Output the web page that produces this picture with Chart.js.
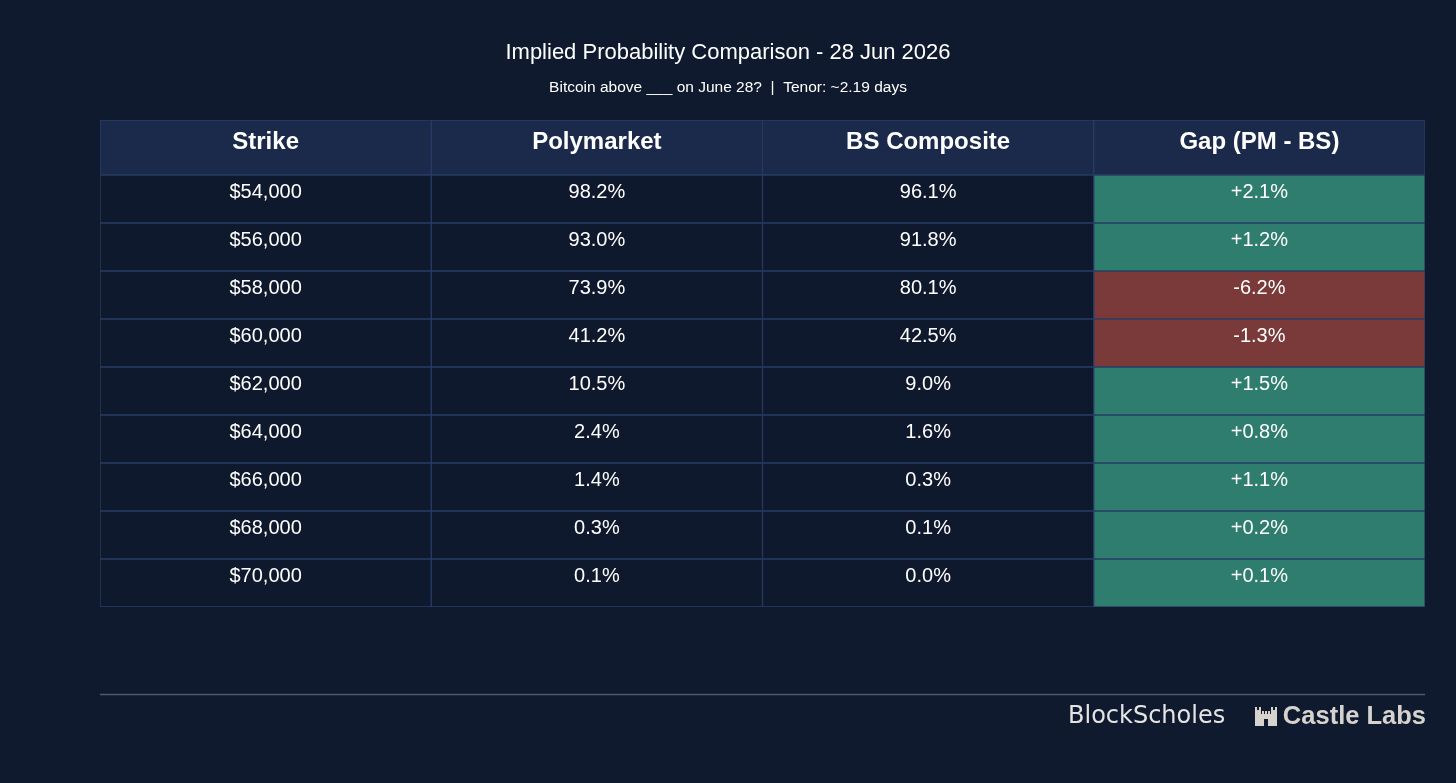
<!DOCTYPE html>
<html>
<head>
<meta charset="utf-8">
<script src="https://cdn.jsdelivr.net/npm/chart.js@4.4.1/dist/chart.umd.min.js"></script>
<style>
  html, body { margin: 0; padding: 0; background: #101a2e; }
  #wrap { width: 1456px; height: 783px; position: relative; }
</style>
</head>
<body>
<div id="wrap"><canvas id="tbl"></canvas></div>
<script>
// ── Datos de la tabla ─────────────────────────────────────────
var columns     = ['Strike', 'Polymarket', 'BS Composite', 'Gap (PM - BS)'];
var strikes     = ['$54,000', '$56,000', '$58,000', '$60,000', '$62,000', '$64,000', '$66,000', '$68,000', '$70,000'];
var polymarket  = [98.2, 93.0, 73.9, 41.2, 10.5, 2.4, 1.4, 0.3, 0.1];
var bsComposite = [96.1, 91.8, 80.1, 42.5, 9.0, 1.6, 0.3, 0.1, 0.0];
var gap         = [2.1, 1.2, -6.2, -1.3, 1.5, 0.8, 1.1, 0.2, 0.1];

// ── Estilo ───────────────────────────────────────────────────
var HEADER_H = 55, ROW_H = 48;
var C_BG = '#101a2e', C_CELL = '#0f192d', C_HEAD = '#1b2a4b';
var C_POS = '#2e7d6e', C_NEG = '#7b3a3a', C_LINE = '#283d66';
var FONT = '"Liberation Sans", Arial, sans-serif';

function pct(v) { return v.toFixed(1) + '%'; }
function signed(v) { return (v >= 0 ? '+' : '') + v.toFixed(1) + '%'; }

// cada fila = un dataset de barras flotantes (una por columna)
var datasets = [{
    label: 'header',
    data: columns.map(function() { return [0, HEADER_H]; }),
    backgroundColor: columns.map(function() { return C_HEAD; }),
    cellText: columns.slice(),
    isHeader: true
}];
strikes.forEach(function(s, i) {
    var top = HEADER_H + ROW_H * i;
    datasets.push({
        label: s,
        data: columns.map(function() { return [top, top + ROW_H]; }),
        backgroundColor: [C_CELL, C_CELL, C_CELL, gap[i] >= 0 ? C_POS : C_NEG],
        cellText: [s, pct(polymarket[i]), pct(bsComposite[i]), signed(gap[i])],
        isHeader: false
    });
});
datasets.forEach(function(d) {
    d.borderColor = C_LINE;
    d.borderWidth = 1;
    d.borderSkipped = false;
    d.barPercentage = 1;
    d.categoryPercentage = 1;
    d.grouped = false;
});

var cellTextPlugin = {
    id: 'cellText',
    afterDatasetsDraw: function(chart) {
        var ctx = chart.ctx;
        ctx.save();
        ctx.fillStyle = '#ffffff';
        ctx.textAlign = 'center';
        ctx.textBaseline = 'middle';
        chart.data.datasets.forEach(function(ds, di) {
            var meta = chart.getDatasetMeta(di);
            ctx.font = ds.isHeader ? 'bold 24px ' + FONT : '20px ' + FONT;
            meta.data.forEach(function(el, j) {
                var top = Math.min(el.y, el.base);
                ctx.fillText(ds.cellText[j], el.x, top + (ds.isHeader ? 22.5 : 17.5));
            });
        });
        ctx.restore();
    }
};

var decorPlugin = {
    id: 'decor',
    beforeDraw: function(chart) {
        var ctx = chart.ctx;
        ctx.save();
        ctx.fillStyle = C_BG;
        ctx.fillRect(0, 0, chart.width, chart.height);
        ctx.restore();
    },
    afterDraw: function(chart) {
        var ctx = chart.ctx, area = chart.chartArea;
        ctx.save();
        ctx.fillStyle = '#ffffff';
        ctx.textAlign = 'center';
        ctx.textBaseline = 'middle';
        ctx.font = '22px ' + FONT;
        ctx.fillText('Implied Probability Comparison - 28 Jun 2026', 728, 53);
        ctx.font = '15.5px ' + FONT;
        ctx.fillText('Bitcoin above ___ on June 28?  |  Tenor: ~2.19 days', 728, 88);

        // separador
        ctx.strokeStyle = '#4a5a76';
        ctx.lineWidth = 1.5;
        ctx.beginPath();
        ctx.moveTo(area.left, 694.5);
        ctx.lineTo(area.right, 694.5);
        ctx.stroke();

        // logos
        ctx.fillStyle = '#e4e4e4';
        ctx.textAlign = 'left';
        ctx.font = '24px "DejaVu Sans", ' + FONT;
        ctx.fillText('BlockScholes', 1068, 717);
        ctx.font = 'bold 25.5px ' + FONT;
        ctx.textAlign = 'right';
        ctx.fillStyle = '#d6d3cf';
        ctx.fillText('Castle Labs', 1426, 717);
        // castillo
        var x0 = 1255, y0 = 707;
        ctx.fillRect(x0, y0 + 3, 6, 16);        // torre izq
        ctx.fillRect(x0 + 16, y0 + 3, 6, 16);   // torre der
        ctx.fillRect(x0 + 6, y0 + 7, 10, 12);   // muro
        [0, 4, 16, 20].forEach(function(dx) { ctx.fillRect(x0 + dx, y0, 2, 3); });
        [7, 10, 13].forEach(function(dx) { ctx.fillRect(x0 + dx, y0 + 4, 2, 3); });
        ctx.fillStyle = C_BG;
        ctx.fillRect(x0 + 9, y0 + 12, 4, 7);
        ctx.restore();
    }
};

new Chart(document.getElementById('tbl'), {
    type: 'bar',
    data: { labels: columns, datasets: datasets },
    options: {
        responsive: true,
        maintainAspectRatio: false,
        animation: false,
        layout: { padding: { left: 100, right: 31, top: 120, bottom: 176 } },
        plugins: { legend: { display: false }, tooltip: { enabled: false } },
        scales: {
            x: { type: 'category', display: false, offset: true },
            y: { type: 'linear', display: false, reverse: true, min: 0, max: HEADER_H + ROW_H * strikes.length }
        }
    },
    plugins: [decorPlugin, cellTextPlugin]
});
</script>
</body>
</html>
